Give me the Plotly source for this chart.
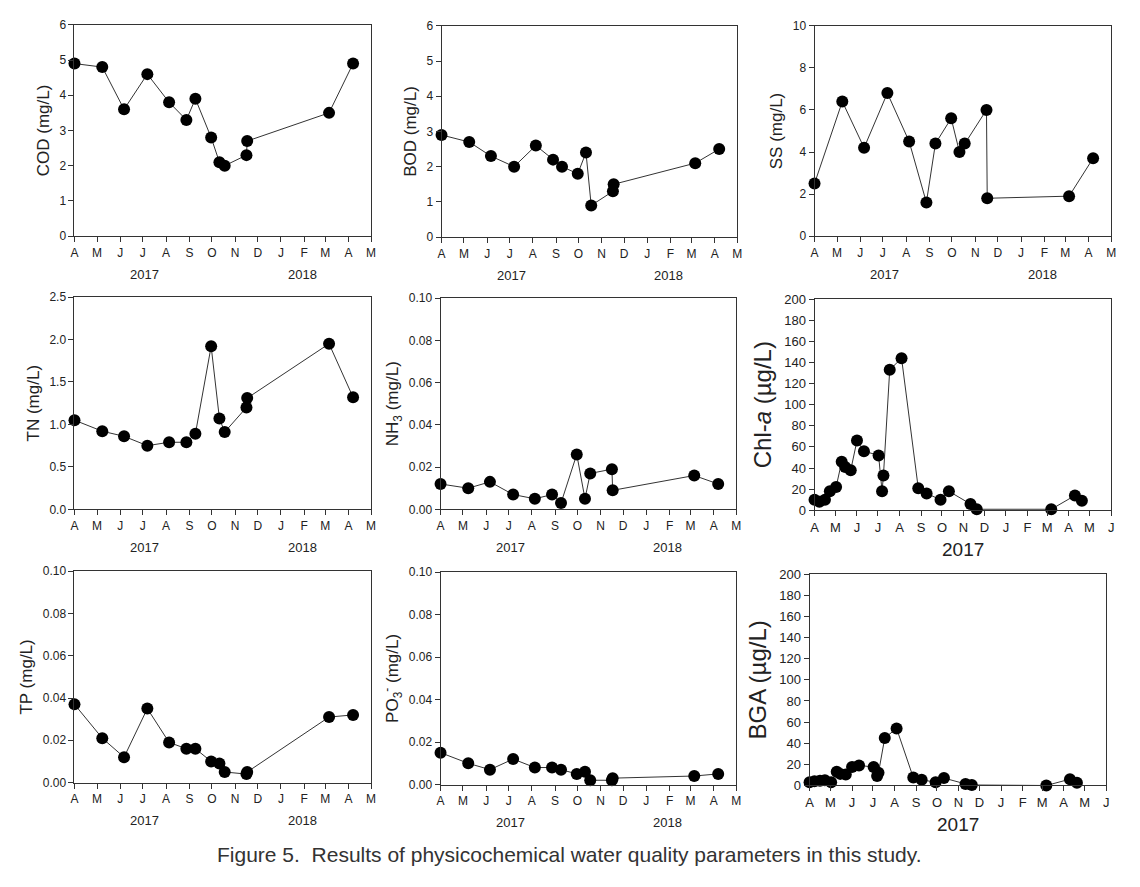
import plotly.graph_objects as go

# ---------------- data ----------------
dates14 = ["2017-04-01", "2017-05-08", "2017-06-06", "2017-07-07", "2017-08-05",
           "2017-08-28", "2017-09-09", "2017-09-30", "2017-10-11", "2017-10-18",
           "2017-11-16", "2017-11-17", "2018-03-06", "2018-04-07"]
cod = [4.9, 4.8, 3.6, 4.6, 3.8, 3.3, 3.9, 2.8, 2.1, 2.0, 2.3, 2.7, 3.5, 4.9]
bod = [2.9, 2.7, 2.3, 2.0, 2.6, 2.2, 2.0, 1.8, 2.4, 0.9, 1.3, 1.5, 2.1, 2.5]
ss = [2.5, 6.4, 4.2, 6.8, 4.5, 1.6, 4.4, 5.6, 4.0, 4.4, 6.0, 1.8, 1.9, 3.7]
tn = [1.05, 0.92, 0.86, 0.75, 0.79, 0.79, 0.89, 1.92, 1.07, 0.91, 1.20, 1.31, 1.95, 1.32]
nh3 = [0.012, 0.010, 0.013, 0.007, 0.005, 0.007, 0.003, 0.026, 0.005, 0.017, 0.019, 0.009, 0.016, 0.012]
tp = [0.037, 0.021, 0.012, 0.035, 0.019, 0.016, 0.016, 0.010, 0.009, 0.005, 0.004, 0.005, 0.031, 0.032]
po3 = [0.015, 0.010, 0.007, 0.012, 0.008, 0.008, 0.007, 0.005, 0.006, 0.002, 0.002, 0.003, 0.004, 0.005]

dates24 = ["2017-04-01", "2017-04-08", "2017-04-16", "2017-04-23", "2017-05-02",
           "2017-05-10", "2017-05-15", "2017-05-23", "2017-06-01", "2017-06-11",
           "2017-07-02", "2017-07-07", "2017-07-09", "2017-07-18", "2017-08-04",
           "2017-08-28", "2017-09-09", "2017-09-29", "2017-10-11", "2017-11-11",
           "2017-11-20", "2018-03-07", "2018-04-10", "2018-04-20"]
chla = [10, 8, 10, 18, 22, 46, 41, 38, 66, 56, 52, 18, 33, 133, 144,
        21, 16, 10, 18, 6, 1, 1, 14, 9]
bga = [3, 4, 4.5, 5, 3, 13, 11, 10.5, 17.5, 19, 17.5, 9, 12, 45, 54,
       7.5, 5.5, 3, 7, 1.5, 0.5, 0, 6, 2.5]

months14 = ["2017-04-01", "2017-05-01", "2017-06-01", "2017-07-01", "2017-08-01",
            "2017-09-01", "2017-10-01", "2017-11-01", "2017-12-01", "2018-01-01",
            "2018-02-01", "2018-03-01", "2018-04-01", "2018-05-01"]
labels14 = ["A", "M", "J", "J", "A", "S", "O", "N", "D", "J", "F", "M", "A", "M"]
months15 = months14 + ["2018-06-01"]
labels15 = labels14 + ["J"]

# ---------------- layout helpers ----------------
# figure sits inside the page's default 8px body margin
OFF = 8
W, H = 1124, 871
FONT = "Arial, Liberation Sans, sans-serif"
TXT = "#222222"


def px(x):
    return (x - OFF) / W


def py(y):
    return 1 - (y - OFF) / H


panels = [
    (dates14, cod, "COD (mg/L)", (71, 370), (18, 233), [0, 6], 1, "d", False),
    (dates14, bod, "BOD (mg/L)", (441, 739), (19, 234), [0, 6], 1, "d", False),
    (dates14, ss, "SS (mg/L)", (817, 1116), (19, 233), [0, 10], 2, "d", False),
    (dates14, tn, "TN (mg/L)", (71, 370), (295, 511), [0, 2.5], 0.5, ".1f", False),
    (dates14, nh3, "NH<sub>3</sub> (mg/L)", (440, 738), (296, 511), [0, 0.1], 0.02, ".2f", False),
    (dates24, chla, "Chl-<i>a</i> (µg/L)", (817, 1116), (297, 512), [0, 200], 20, "d", True),
    (dates14, tp, "TP (mg/L)", (71, 370), (574, 789), [0, 0.1], 0.02, ".2f", False),
    (dates14, po3, "PO<sub>3</sub><sup>-</sup> (mg/L)", (440, 738), (575, 791), [0, 0.1], 0.02, ".2f", False),
    (dates24, bga, "BGA (µg/L)", (812, 1111), (577, 792), [0, 200], 20, "d", True),
]

fig = go.Figure()
annotations = []
layout = {}

for i, (xd, yd, title, xpx, ypx, yr, dt, fmt, wide) in enumerate(panels):
    n = i + 1
    xa = "x" if n == 1 else f"x{n}"
    ya = "y" if n == 1 else f"y{n}"
    fig.add_trace(go.Scatter(
        x=xd, y=yd, xaxis=xa, yaxis=ya, mode="lines+markers",
        line=dict(color="#333333", width=1),
        marker=dict(color="black", size=12),
        cliponaxis=False, showlegend=False,
    ))
    xdom = [px(xpx[0]), px(xpx[1])]
    ydom = [py(ypx[1]), py(ypx[0])]
    if wide:
        xr = ["2017-04-01", "2018-06-01"]
        tv, tt = months15, labels15
    else:
        xr = ["2017-04-01", "2018-05-01"]
        tv, tt = months14, labels14
    tick_size = 13 if wide else 12
    layout["xaxis" if n == 1 else f"xaxis{n}"] = dict(
        domain=xdom, anchor=ya, type="date", range=xr,
        tickmode="array", tickvals=tv, ticktext=tt,
        ticks="outside", ticklen=5, tickcolor="#333", tickwidth=1,
        showline=True, linecolor="#333", linewidth=1, mirror=True,
        showgrid=False, zeroline=False,
        tickfont=dict(family=FONT, size=tick_size, color=TXT),
    )
    layout["yaxis" if n == 1 else f"yaxis{n}"] = dict(
        domain=ydom, anchor=xa, range=yr, dtick=dt, tick0=0, tickformat=fmt,
        ticks="outside", ticklen=5, tickcolor="#333", tickwidth=1,
        showline=True, linecolor="#333", linewidth=1, mirror=True,
        showgrid=False, zeroline=False,
        tickfont=dict(family=FONT, size=tick_size, color=TXT),
        title=dict(text=title, font=dict(family=FONT, size=24 if wide else 17, color=TXT),
                   standoff=5),
    )
    yb = ypx[1]
    if wide:
        annotations.append(dict(x="2017-10-31", y=py(yb + 40), xref=xa, yref="paper",
                                yanchor="middle", text="2017", showarrow=False,
                                font=dict(family=FONT, size=19, color=TXT)))
    else:
        for yrtxt, xpos in (("2017", "2017-07-03"), ("2018", "2018-01-29")):
            annotations.append(dict(x=xpos, y=py(yb + 39), xref=xa, yref="paper",
                                    yanchor="middle", text=yrtxt, showarrow=False,
                                    font=dict(family=FONT, size=13, color=TXT)))

annotations.append(dict(
    x=px(570), y=py(862), xref="paper", yref="paper", showarrow=False,
    xanchor="center", yanchor="middle",
    text="Figure 5.&nbsp; Results of physicochemical water quality parameters in this study.",
    font=dict(family=FONT, size=21, color="#333333")))

fig.update_layout(
    width=W, height=H, margin=dict(l=0, r=0, t=0, b=0),
    paper_bgcolor="white", plot_bgcolor="white",
    annotations=annotations, **layout,
)

fig.write_html("out.html", config={"displayModeBar": False})
